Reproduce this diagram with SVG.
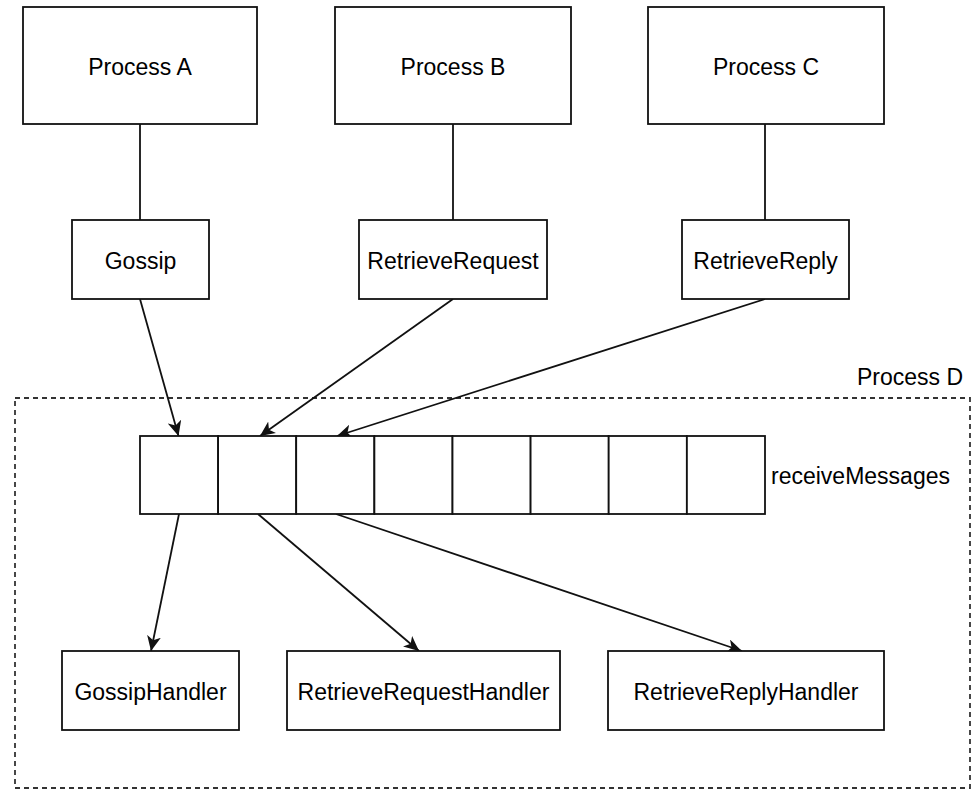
<svg xmlns="http://www.w3.org/2000/svg" width="976" height="790" viewBox="0 0 976 790">
<style>
.box{fill:#fff;stroke:#111;stroke-width:1.8}
.lbl{font-family:"Liberation Sans",Arial,sans-serif;font-size:23px;fill:#000;text-anchor:middle;dominant-baseline:central}
.edge{fill:none;stroke:#111;stroke-width:1.8}
.arr{marker-end:url(#ah)}
</style>
<defs>
<marker id="ah" markerUnits="userSpaceOnUse" markerWidth="16" markerHeight="14" refX="15" refY="7" orient="auto">
<path d="M0,0 L15,7 L0,14 L4,7 Z" fill="#111"/>
</marker>
</defs>
<rect width="976" height="790" fill="#fff"/>
<g id="processD">
<rect x="15" y="398" width="955" height="390" fill="none" stroke="#333" stroke-width="1.8" stroke-dasharray="5 4"/>
<text x="963" y="377" class="lbl" style="text-anchor:end">Process D</text>
</g>
<g id="connectors">
<line class="edge" x1="140" y1="124" x2="140" y2="220"/>
<line class="edge" x1="453" y1="124" x2="453" y2="220"/>
<line class="edge" x1="765" y1="124" x2="765" y2="220"/>
<line class="edge arr" x1="140" y1="299" x2="178.5" y2="436"/>
<line class="edge arr" x1="453" y1="299" x2="260" y2="436"/>
<line class="edge arr" x1="765" y1="299" x2="337" y2="436"/>
<line class="edge arr" x1="179" y1="514" x2="151" y2="651"/>
<line class="edge arr" x1="258" y1="514" x2="419" y2="651"/>
<line class="edge arr" x1="336" y1="514" x2="742" y2="651"/>
</g>
<g id="processA"><rect class="box" x="23" y="7" width="234" height="117"/><text class="lbl" x="140" y="67">Process A</text></g>
<g id="processB"><rect class="box" x="335" y="7" width="236" height="117"/><text class="lbl" x="453" y="67">Process B</text></g>
<g id="processC"><rect class="box" x="648" y="7" width="236" height="117"/><text class="lbl" x="766" y="67">Process C</text></g>
<g id="gossip"><rect class="box" x="72" y="220" width="137" height="79"/><text class="lbl" x="140.5" y="261">Gossip</text></g>
<g id="retrieveRequest"><rect class="box" x="359" y="220" width="188" height="79"/><text class="lbl" x="453" y="261">RetrieveRequest</text></g>
<g id="retrieveReply"><rect class="box" x="682" y="220" width="167" height="79"/><text class="lbl" x="765.5" y="261">RetrieveReply</text></g>
<g id="receiveMessages">
<rect class="box" x="140" y="436" width="78.1" height="78"/>
<rect class="box" x="218.1" y="436" width="78.1" height="78"/>
<rect class="box" x="296.2" y="436" width="78.1" height="78"/>
<rect class="box" x="374.4" y="436" width="78.1" height="78"/>
<rect class="box" x="452.5" y="436" width="78.1" height="78"/>
<rect class="box" x="530.6" y="436" width="78.1" height="78"/>
<rect class="box" x="608.7" y="436" width="78.1" height="78"/>
<rect class="box" x="686.9" y="436" width="78.1" height="78"/>
<text class="lbl" x="771" y="476" style="text-anchor:start">receiveMessages</text>
</g>
<g id="gossipHandler"><rect class="box" x="62" y="651" width="177" height="79"/><text class="lbl" x="150.5" y="692">GossipHandler</text></g>
<g id="retrieveRequestHandler"><rect class="box" x="287" y="651" width="273" height="79"/><text class="lbl" x="423.5" y="692">RetrieveRequestHandler</text></g>
<g id="retrieveReplyHandler"><rect class="box" x="608" y="651" width="276" height="79"/><text class="lbl" x="746" y="692">RetrieveReplyHandler</text></g>
</svg>
